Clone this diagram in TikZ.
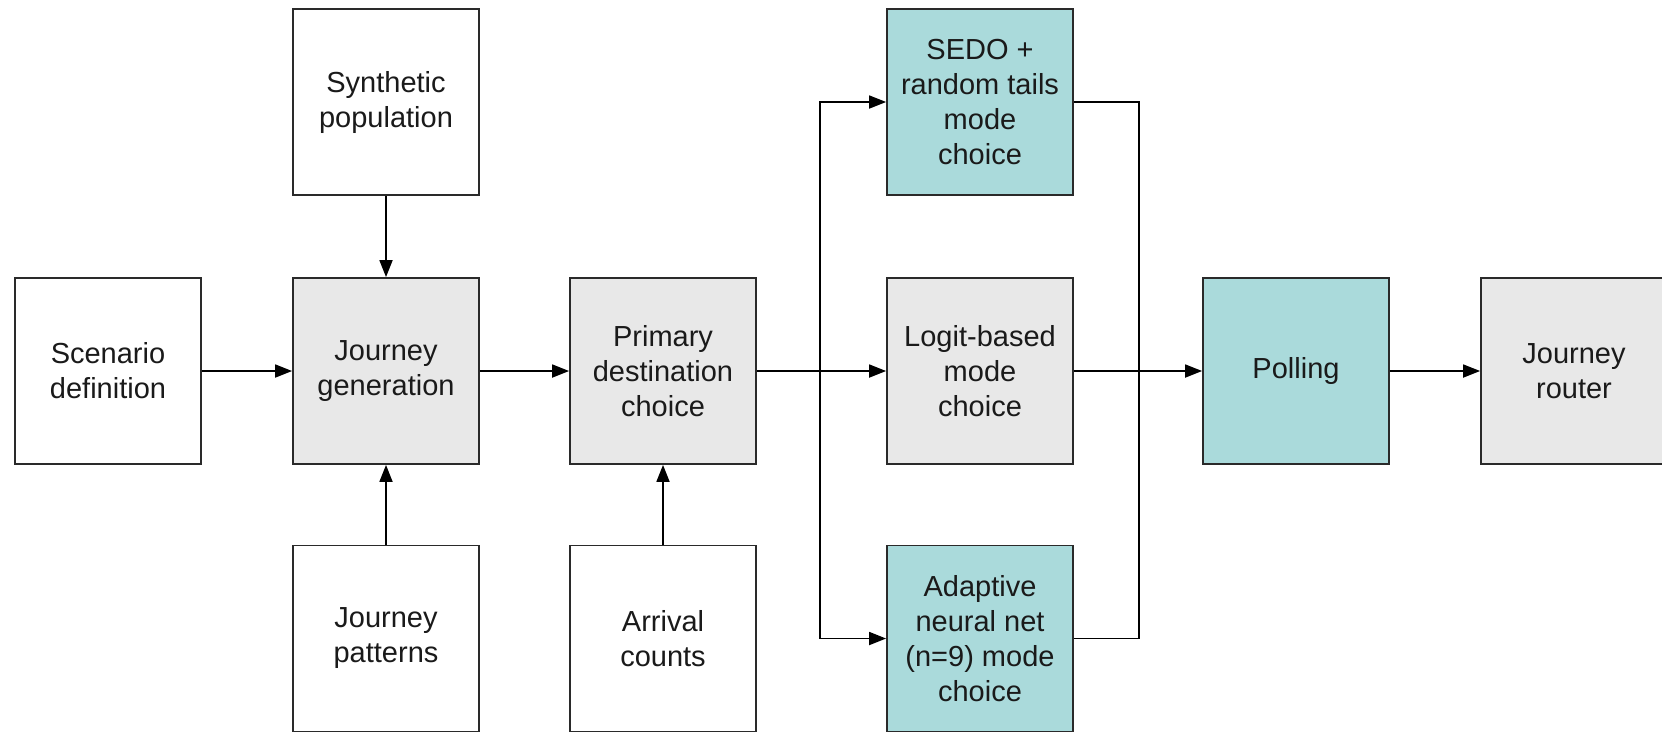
\documentclass[tikz,border=0pt]{standalone}
\usepackage{fontspec}
\setmainfont{Liberation Sans}
\usetikzlibrary{arrows.meta,calc}
\definecolor{boxgray}{HTML}{E8E8E8}
\definecolor{boxteal}{HTML}{AADADB}
\definecolor{edgecol}{HTML}{2A2A2A}
\definecolor{txtcol}{HTML}{1A1A1A}
\tikzset{
  blk/.style={draw=edgecol, line width=1.8pt, minimum width=186pt, minimum height=186pt,
    inner sep=0pt, align=center, text=txtcol, font=\fontsize{29}{35}\selectfont},
  wbox/.style={blk, fill=white},
  gbox/.style={blk, fill=boxgray},
  tbox/.style={blk, fill=boxteal},
  arr/.style={draw=black, line width=1.8pt, -{Triangle[length=17pt,width=13pt]}},
  ln/.style={draw=black, line width=1.8pt}
}
\begin{document}
\begin{tikzpicture}[x=1pt,y=-1pt]
\useasboundingbox (0,0) rectangle (1662,731);
\clip (0,0) rectangle (1662,731);
\fill[white] (0,0) rectangle (1662,731);
\node[wbox] (scen) at (108,371) {Scenario\\definition};
\node[wbox] (synth) at (386,102) {Synthetic\\population};
\node[gbox] (jg) at (386,371) {Journey\\generation};
\node[wbox] (pat) at (386,638.5) {Journey\\patterns};
\node[gbox] (pdc) at (663,371) {Primary\\destination\\choice};
\node[wbox] (arr) at (663,638.5) {Arrival\\counts};
\node[tbox] (sedo) at (980,102) {SEDO +\\random tails\\mode\\choice};
\node[gbox] (logit) at (980,371) {Logit-based\\mode\\choice};
\node[tbox] (adapt) at (980,638.5) {Adaptive\\neural net\\(n=9) mode\\choice};
\node[tbox] (poll) at (1296,371) {Polling};
\node[gbox] (router) at (1574,371) {Journey\\router};
\coordinate (bx) at (820,371);
\coordinate (mx) at (1139,371);
\draw[arr] (scen.east) -- (jg.west);
\draw[arr] (synth.south) -- (jg.north);
\draw[arr] (pat.north) -- (jg.south);
\draw[arr] (jg.east) -- (pdc.west);
\draw[arr] (arr.north) -- (pdc.south);
\draw[arr] (pdc.east) -- (logit.west);
\draw[arr] (bx) |- (sedo.west);
\draw[arr] (bx) |- (adapt.west);
\draw[ln] (sedo.east) -| (mx) |- (adapt.east);
\draw[arr] (logit.east) -- (poll.west);
\draw[arr] (poll.east) -- (router.west);
\end{tikzpicture}
\end{document}
